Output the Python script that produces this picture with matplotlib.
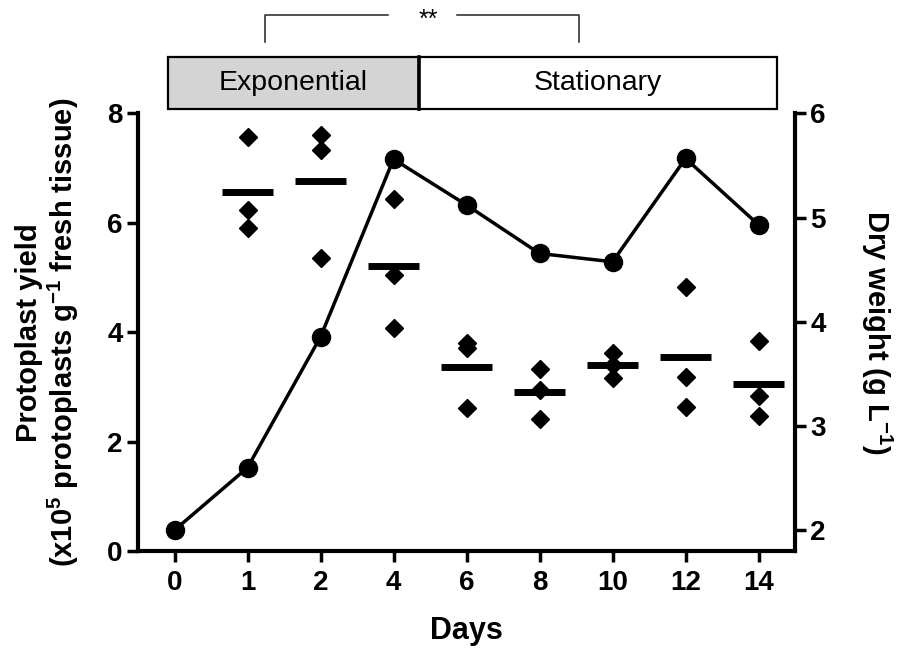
import matplotlib
matplotlib.use('Agg')
import matplotlib.pyplot as plt
from matplotlib import font_manager as fm
from matplotlib.patches import Rectangle
from matplotlib.lines import Line2D
import numpy as np

# ---- data ----
days = ['0', '1', '2', '4', '6', '8', '10', '12', '14']
yield_days = ['1', '2', '4', '6', '8', '10', '12', '14']
yield_rep1 = [7.56, 7.61, 6.43, 3.80, 3.33, 3.61, 4.83, 3.84]
yield_rep2 = [6.23, 7.33, 5.05, 3.71, 2.94, 3.40, 3.18, 2.84]
yield_rep3 = [5.90, 5.36, 4.08, 2.61, 2.41, 3.17, 2.64, 2.47]
yield_mean = [6.57, 6.77, 5.20, 3.37, 2.91, 3.40, 3.55, 3.05]
dry_weight = [2.00, 2.60, 3.855, 5.56, 5.12, 4.655, 4.575, 5.567, 4.93]
phases = ['Exponential', 'Stationary']
signif = '**'
left_ticks = [0, 2, 4, 6, 8]
right_ticks = [2, 3, 4, 5, 6]

names = {f.name for f in fm.fontManager.ttflist}
base = 'Liberation Sans' if 'Liberation Sans' in names else 'DejaVu Sans'
narrow = 'Liberation Sans Narrow' if 'Liberation Sans Narrow' in names else base

plt.rcParams['font.family'] = [base, 'DejaVu Sans']
plt.rcParams['mathtext.fontset'] = 'custom'
plt.rcParams['mathtext.rm'] = base + ':bold'
plt.rcParams['mathtext.bf'] = base + ':bold'
plt.rcParams['mathtext.default'] = 'rm'

fig = plt.figure(figsize=(9.08, 6.5), dpi=100)
ax = fig.add_axes([0.152, 0.1523, 0.7236, 0.6734])
ax2 = ax.twinx()

x = np.arange(len(days))
xy = np.array([days.index(d) for d in yield_days])

for reps in (yield_rep1, yield_rep2, yield_rep3):
    ax.plot(xy, reps, linestyle='none', marker='D', markersize=9.5,
            color='black', clip_on=False, zorder=3)
ax.hlines(yield_mean, xy - 0.35, xy + 0.35, colors='black', linewidth=5, zorder=3)

ax2.plot(x, dry_weight, color='black', linewidth=2.5, marker='o',
         markersize=13, clip_on=False, zorder=4)

ax.set_xlim(-0.5, len(days) - 0.5)
ax.set_ylim(0, 8)
ax2.set_ylim(1.8, 6)
ax.set_xticks(x)
ax.set_xticklabels(days)
ax.set_yticks(left_ticks)
ax2.set_yticks(right_ticks)

for a in (ax, ax2):
    a.spines['top'].set_visible(False)
    for s in a.spines.values():
        s.set_linewidth(3)
ax.spines['right'].set_visible(False)
ax2.spines['left'].set_visible(False)
ax2.spines['bottom'].set_visible(False)

tick_font = dict(family=[narrow, base], weight='bold', size=20)
ax.tick_params(axis='both', length=8, width=2.5, pad=3)
ax.tick_params(axis='x', pad=6)
ax2.tick_params(axis='y', length=8, width=2.5, pad=3)
for lab in ax.get_xticklabels() + ax.get_yticklabels() + ax2.get_yticklabels():
    lab.set_fontproperties(fm.FontProperties(**tick_font))

ax.set_xlabel('Days', fontsize=22, fontweight='bold', labelpad=14)
ax.set_ylabel('Protoplast yield\n(x10$^{5}$ protoplasts g$^{-1}$ fresh tissue)',
              fontsize=21, fontweight='bold', labelpad=19, linespacing=1.1)
ax2.set_ylabel('Dry weight (g L$^{-1}$)', fontsize=21, fontweight='bold',
               rotation=270, labelpad=49)

# phase boxes
bx0, bmid, bx1 = 167.7 / 908, 419 / 908, 777 / 908
by0, by1 = (650 - 109) / 650, (650 - 57) / 650
fig.add_artist(Rectangle((bx0, by0), bmid - bx0, by1 - by0, transform=fig.transFigure,
                         facecolor='#d4d4d4', edgecolor='black', linewidth=1.6))
fig.add_artist(Rectangle((bmid, by0), bx1 - bmid, by1 - by0, transform=fig.transFigure,
                         facecolor='white', edgecolor='black', linewidth=1.6))
fig.add_artist(Line2D([bmid, bmid], [by0, by1], transform=fig.transFigure,
                      color='black', linewidth=2.6))
fig.text((bx0 + bmid) / 2, (by0 + by1) / 2, phases[0], ha='center', va='center', fontsize=20.5)
fig.text((bmid + bx1) / 2, (by0 + by1) / 2, phases[1], ha='center', va='center', fontsize=20.5)

# significance bracket
yl, yt = 1 - 15 / 650, 1 - 42 / 650
xa, xg0, xg1, xb = 265 / 908, 388 / 908, 457 / 908, 579 / 908
fig.add_artist(Line2D([xa, xa, xg0], [yt, yl, yl], transform=fig.transFigure,
                      color='#222222', linewidth=1.1))
fig.add_artist(Line2D([xg1, xb, xb], [yl, yl, yt], transform=fig.transFigure,
                      color='#222222', linewidth=1.1))
fig.text(428 / 908, 1 - 20 / 650, signif, ha='center', va='center', fontsize=18)

fig.savefig('out.png', dpi=100)
